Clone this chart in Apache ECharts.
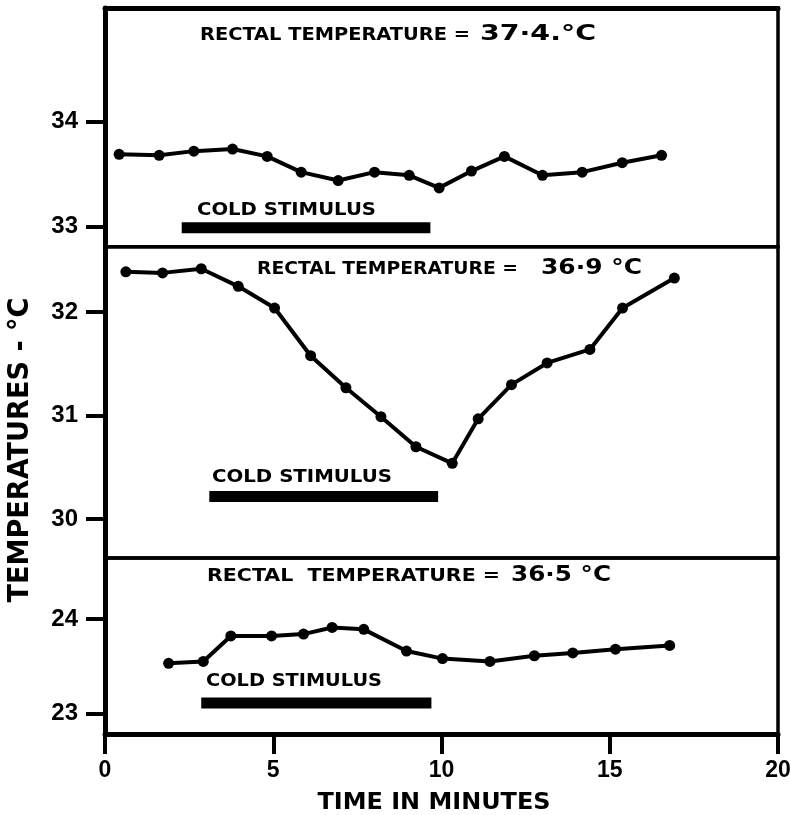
<!DOCTYPE html>
<html>
<head>
<meta charset="utf-8">
<script src="https://cdn.jsdelivr.net/npm/echarts@6/dist/echarts.min.js"></script>
<style>
html,body{margin:0;padding:0;background:#fff;}
#chart{width:791px;height:815px;}
</style>
</head>
<body>
<div id="chart"></div>
<script>
// ---- data ----
var timeA = [0.42, 1.61, 2.64, 3.79, 4.82, 5.83, 6.93, 8.01, 9.04, 9.93, 10.89, 11.87, 13.0, 14.18, 15.37, 16.54];
var tempA = [33.69, 33.68, 33.72, 33.74, 33.67, 33.52, 33.44, 33.52, 33.49, 33.37, 33.53, 33.67, 33.49, 33.52, 33.61, 33.68];

var timeB = [0.62, 1.71, 2.86, 3.96, 5.04, 6.11, 7.16, 8.2, 9.24, 10.32, 11.09, 12.08, 13.14, 14.41, 15.38, 16.92];
var tempB = [32.39, 32.38, 32.42, 32.25, 32.04, 31.58, 31.27, 30.99, 30.70, 30.54, 30.97, 31.30, 31.51, 31.64, 32.04, 32.33];

var timeC = [1.89, 2.92, 3.74, 4.95, 5.9, 6.75, 7.69, 8.96, 10.03, 11.44, 12.76, 13.9, 15.17, 16.78];
var tempC = [23.53, 23.55, 23.82, 23.82, 23.84, 23.91, 23.89, 23.66, 23.58, 23.55, 23.61, 23.64, 23.68, 23.72];

var stimStart = [2.28, 3.1, 2.86];
var stimEnd = [9.67, 9.9, 9.7];
var stimLevel = [32.99, 30.22, 23.11];

var rectalTemps = ["37·4.°C", "36·9 °C", "36·5 °C"];

var yTicksA = [33, 34];
var yTicksB = [30, 31, 32];
var yTicksC = [23, 24];
var xTicks = [0, 5, 10, 15, 20];

// ---- helpers ----
function pairs(xs, ys) { return xs.map(function (x, i) { return [x, ys[i]]; }); }
var FAM = '"DejaVu Sans", sans-serif';
var NUMFAM = '"Liberation Sans", sans-serif';
var ctx = document.createElement('canvas').getContext('2d');
function txt(str, size, x, y, targetW, align, rot) {
  var font = 'bold ' + size + 'px ' + FAM;
  ctx.font = font;
  var w = ctx.measureText(str).width;
  return {
    type: 'text', x: x, y: y, rotation: rot || 0, scaleX: targetW / w, z: 10,
    style: { text: str, font: font, fill: '#000', textAlign: align || 'left', textVerticalAlign: 'middle' }
  };
}

var lineSer = function (idx, data) {
  return {
    type: 'line', xAxisIndex: idx, yAxisIndex: idx, data: data,
    symbol: 'circle', symbolSize: 11, showSymbol: true,
    itemStyle: { color: '#000' }, lineStyle: { color: '#000', width: 4 }, z: 5
  };
};
var stimSer = function (idx) {
  return {
    type: 'line', xAxisIndex: idx, yAxisIndex: idx, symbol: 'none',
    data: [[stimStart[idx], stimLevel[idx]], [stimEnd[idx], stimLevel[idx]]],
    lineStyle: { color: '#000', width: 11, cap: 'butt' }, z: 4
  };
};

var axisLineStyle = { show: true, lineStyle: { color: '#000', width: 5 } };
function yAx(idx, min, max, ticks) {
  return {
    type: 'value', gridIndex: idx, min: min, max: max,
    axisLine: axisLineStyle,
    axisTick: { show: true, inside: false, length: 19, customValues: ticks, lineStyle: { color: '#000', width: 4 } },
    axisLabel: { show: true, customValues: ticks, margin: 27, color: '#000', fontSize: 24, fontWeight: 'bold', fontFamily: NUMFAM },
    splitLine: { show: false }
  };
}
function gridAt(top, height) {
  return { left: 105, right: 13, top: top, height: height, show: true, borderColor: '#000', borderWidth: 3.5,
           containLabel: false, outerBoundsMode: 'none' };
}

var chart = echarts.init(document.getElementById('chart'), null, { renderer: 'canvas' });
var option = {
  animation: false,
  backgroundColor: '#fff',
  grid: [ gridAt(8, 238.7), gridAt(246.7, 311.3), gridAt(558, 176) ],
  xAxis: [
    { type: 'value', gridIndex: 0, min: 0, max: 20, position: 'top', axisLine: axisLineStyle,
      axisTick: { show: false }, axisLabel: { show: false }, splitLine: { show: false } },
    { type: 'value', gridIndex: 1, min: 0, max: 20, show: false, splitLine: { show: false } },
    { type: 'value', gridIndex: 2, min: 0, max: 20, interval: 5,
      axisLine: axisLineStyle,
      axisTick: { show: true, inside: false, length: 20, customValues: xTicks, lineStyle: { color: '#000', width: 4 } },
      axisLabel: { show: true, customValues: xTicks, margin: 25, color: '#000', fontSize: 23, fontWeight: 'bold', fontFamily: NUMFAM },
      splitLine: { show: false } }
  ],
  yAxis: [
    yAx(0, 32.81, 35.083, yTicksA),
    yAx(1, 29.625, 32.633, yTicksB),
    yAx(2, 22.78, 24.647, yTicksC)
  ],
  series: [
    stimSer(0), stimSer(1), stimSer(2),
    lineSer(0, pairs(timeA, tempA)),
    lineSer(1, pairs(timeB, tempB)),
    lineSer(2, pairs(timeC, tempC))
  ],
  graphic: [
    txt('RECTAL TEMPERATURE =', 18, 200, 35, 270),
    txt(rectalTemps[0], 22, 480, 34, 116),
    txt('COLD STIMULUS', 18, 197, 210, 179),
    txt('RECTAL TEMPERATURE =', 18, 257, 269, 261),
    txt(rectalTemps[1], 22, 541, 268, 101),
    txt('COLD STIMULUS', 18, 212, 477, 180),
    txt('RECTAL  TEMPERATURE =', 18, 207, 576, 293),
    txt(rectalTemps[2], 22, 511, 575, 100),
    txt('COLD STIMULUS', 18, 206, 681, 176),
    txt('TEMPERATURES - °C', 28, 21, 450, 305, 'center', Math.PI / 2),
    txt('TIME IN MINUTES', 23, 434, 803, 233, 'center')
  ]
};
chart.setOption(option);
</script>
</body>
</html>
